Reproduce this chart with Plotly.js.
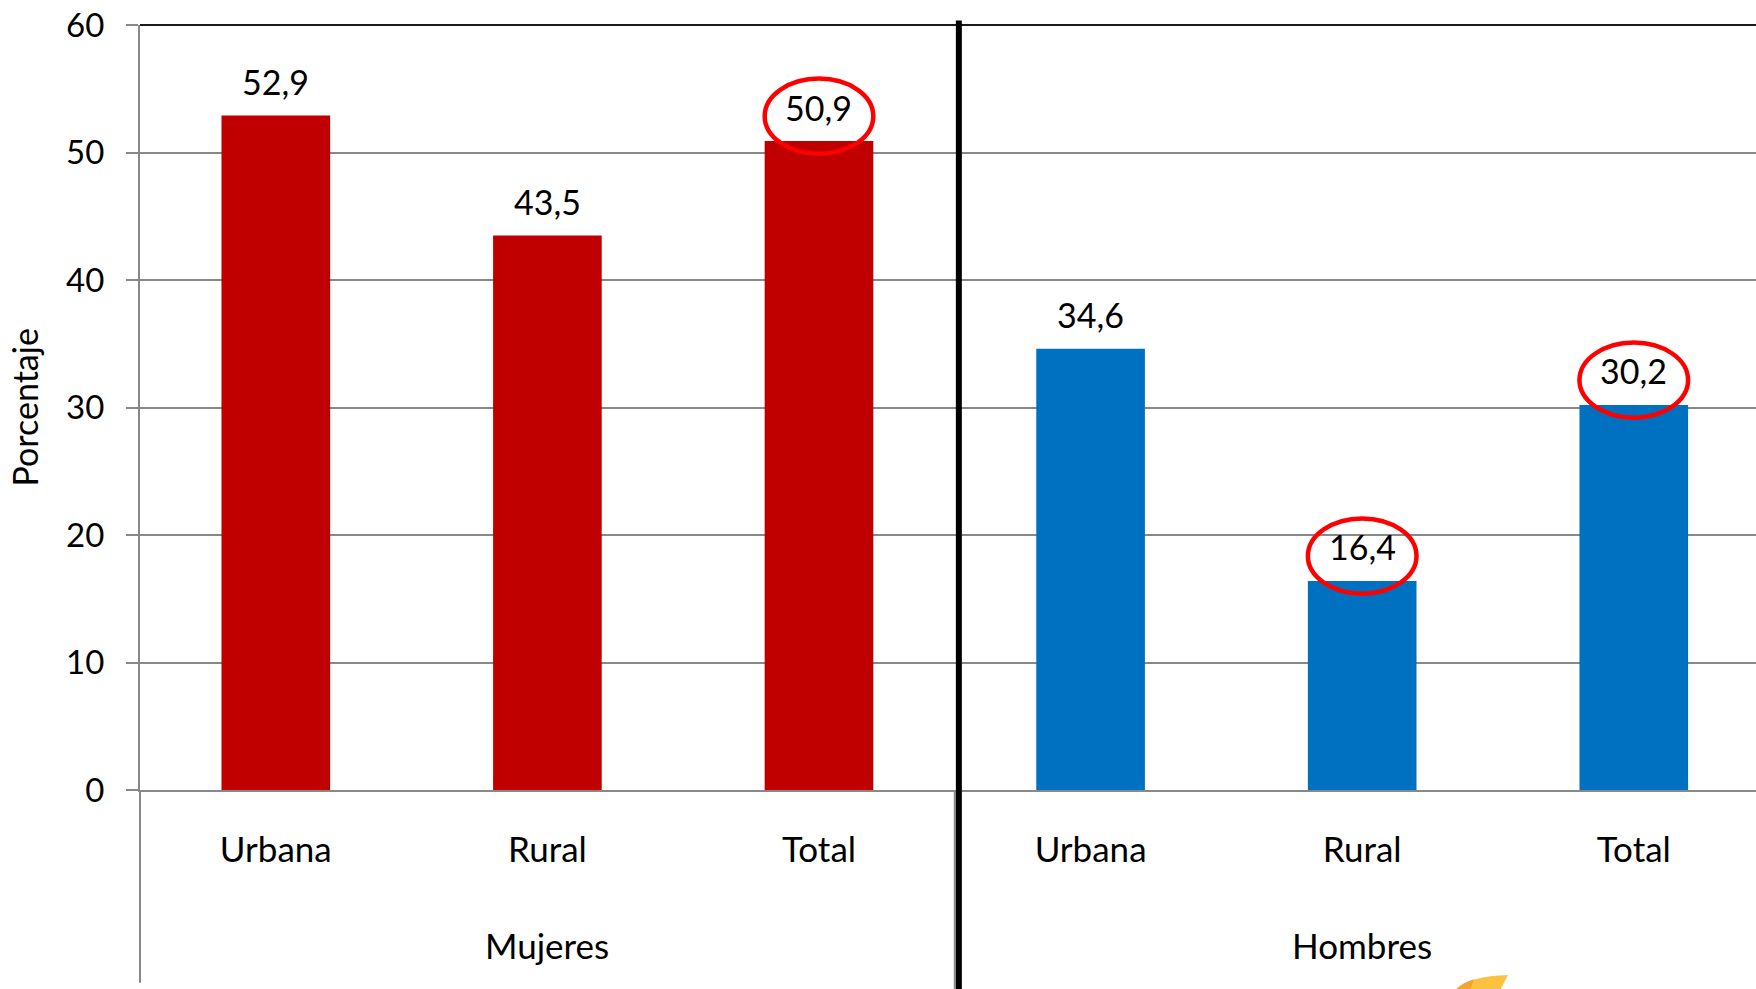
<!DOCTYPE html>
<html>
<head>
<meta charset="utf-8">
<script src="https://cdn.plot.ly/plotly-3.0.1.min.js"></script>
<style>html,body{margin:0;padding:0;background:#fff;}#chart{width:1756px;height:989px;}</style>
</head>
<body>
<div id="chart"></div>
<script>
// ---- data ----
const groups = ['Mujeres', 'Hombres'];
const areas = ['Urbana', 'Rural', 'Total'];
const mujeres = [52.9, 43.5, 50.9];
const hombres = [34.6, 16.4, 30.2];
const yTitle = 'Porcentaje';
// circled labels: [group index, area index]
const circled = [[0, 2], [1, 1], [1, 2]];

// ---- build ----
const seriesByGroup = [mujeres, hombres];
const colors = ['#C00000', '#0070C0'];
const nA = areas.length;
const FONT = 'Lato, "Open Sans", sans-serif';

const traces = seriesByGroup.map((vals, g) => ({
  type: 'bar',
  x: vals.map((_, i) => g * nA + i),
  y: vals,
  width: 0.4,
  marker: {color: colors[g]},
  hoverinfo: 'none',
  showlegend: false
}));

const fmt = v => v.toFixed(1).replace('.', ',');
const annotations = [];
seriesByGroup.forEach((vals, g) => {
  vals.forEach((v, i) => {
    annotations.push({
      x: g * nA + i, y: v, xref: 'x', yref: 'y',
      text: fmt(v), showarrow: false, yanchor: 'middle', yshift: 34,
      font: {family: FONT, size: 34, color: '#000'}
    });
  });
  annotations.push({
    x: g * nA + (nA - 1) / 2, y: -0.2026, xref: 'x', yref: 'paper',
    text: groups[g], showarrow: false, yanchor: 'middle',
    font: {family: FONT, size: 35, color: '#000'}
  });
});
annotations.push({
  x: -0.0712, y: 0.50, xref: 'paper', yref: 'paper', textangle: -90,
  text: yTitle, showarrow: false, xanchor: 'center', yanchor: 'middle',
  font: {family: FONT, size: 34, color: '#000'}
});

const shapes = [];
// top border
shapes.push({type: 'line', xref: 'paper', yref: 'paper', x0: 0, x1: 1, y0: 1, y1: 1,
  line: {color: '#1a1a1a', width: 2}});
// y axis extension below plot
shapes.push({type: 'line', xref: 'paper', yref: 'paper', x0: 0, x1: 0, y0: 0, y1: -0.252,
  line: {color: '#888', width: 2}});
// group separator (gray, below axis)
shapes.push({type: 'line', xref: 'x', yref: 'paper', x0: nA - 0.5, x1: nA - 0.5, y0: 0, y1: -0.26,
  line: {color: '#888', width: 2}});
// thick black divider
shapes.push({type: 'line', xref: 'x', yref: 'paper', x0: nA - 0.485, x1: nA - 0.485, y0: -0.27, y1: 1.006,
  line: {color: '#000', width: 6}});
// red ellipses
circled.forEach(([g, i]) => {
  const v = seriesByGroup[g][i];
  const xc = g * nA + i;
  shapes.push({type: 'circle', xref: 'x', yref: 'y',
    x0: xc - 0.2, x1: xc + 0.2, y0: v - 1.0, y1: v + 4.9,
    line: {color: '#FF0000', width: 4.5}});
});
// decorative yellow shape at bottom
shapes.push({type: 'path', xref: 'paper', yref: 'paper',
  path: 'M 0.8137,-0.262 Q 0.822,-0.243 0.8465,-0.2418 L 0.8416,-0.262 Z',
  fillcolor: '#FCC13E', line: {width: 0}});
shapes.push({type: 'path', xref: 'paper', yref: 'paper',
  path: 'M 0.8137,-0.262 Q 0.818,-0.252 0.8255,-0.2475 L 0.823,-0.262 Z',
  fillcolor: '#F2A531', line: {width: 0}});

const layout = {
  width: 1756, height: 989,
  margin: {l: 140, r: 0, t: 25, b: 199, pad: 0},
  paper_bgcolor: '#fff', plot_bgcolor: '#fff',
  xaxis: {
    type: 'linear', range: [-0.5, 5.45],
    tickvals: groups.flatMap((_, g) => areas.map((_, i) => g * nA + i)),
    ticktext: groups.flatMap(() => areas),
    showgrid: false, zeroline: false, showline: true, linecolor: '#888', linewidth: 2,
    ticks: '', ticklabelstandoff: 28,
    tickfont: {family: FONT, size: 35, color: '#000'}, fixedrange: true
  },
  yaxis: {
    range: [0, 60], dtick: 10, tick0: 0,
    showgrid: true, gridcolor: '#888', gridwidth: 2, zeroline: false,
    showline: true, linecolor: '#888', linewidth: 2,
    ticks: 'outside', ticklen: 12, tickcolor: '#888', tickwidth: 2,
    ticklabelstandoff: 15,
    tickfont: {family: FONT, size: 33, color: '#000'}, fixedrange: true
  },
  bargap: 0.6,
  annotations: annotations,
  shapes: shapes,
  showlegend: false
};

Plotly.newPlot('chart', traces, layout, {displayModeBar: false, staticPlot: true});
</script>
</body>
</html>
